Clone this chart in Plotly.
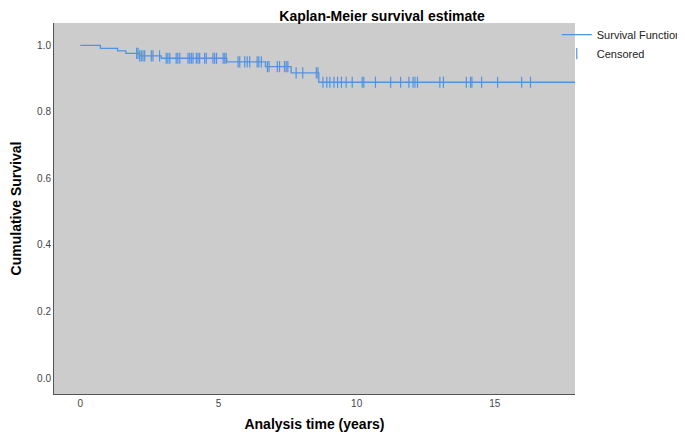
import numpy as np
import plotly.graph_objects as go

# Kaplan-Meier step function (time in years, cumulative survival)
step_times = [0.0, 0.73, 1.35, 1.65, 2.15, 2.93, 5.30, 6.70, 7.63, 8.63, 17.9]
step_surv = [1.0, 0.991, 0.983, 0.976, 0.968, 0.961, 0.950, 0.936, 0.917, 0.889, 0.889]

# Censored observation times
censor_times = [
    2.04, 2.09, 2.15, 2.21, 2.27, 2.33, 2.57, 2.63, 2.87, 3.11, 3.17, 3.24,
    3.47, 3.53, 3.60, 3.90, 3.96, 4.02, 4.08, 4.20, 4.26, 4.32, 4.50, 4.56,
    4.80, 4.86, 4.93, 5.17, 5.23, 5.28, 5.71, 5.77, 5.95, 6.04, 6.13, 6.40,
    6.46, 6.55, 6.77, 6.83, 7.13, 7.21, 7.39, 7.45, 7.51, 7.81, 8.05, 8.54,
    8.60, 8.78, 8.92, 9.03, 9.18, 9.31, 9.45, 9.62, 9.84, 10.20, 10.26, 10.68,
    11.23, 11.59, 11.89, 12.04, 12.11, 12.20, 13.01, 13.14, 13.97, 14.12,
    14.17, 14.52, 15.10, 15.97, 16.29,
]

x_ticks = [0, 5, 10, 15]
y_ticks = [0.0, 0.2, 0.4, 0.6, 0.8, 1.0]

# survival level at each censored time (from the step function)
st = np.array(step_times)
ss = np.array(step_surv)
idx = np.searchsorted(st, np.array(censor_times), side="right") - 1
censor_surv = ss[idx]

BLUE = "rgb(84,146,223)"
FONT = "Liberation Sans, Arial, Helvetica, sans-serif"

fig = go.Figure()
fig.add_trace(go.Scatter(
    x=step_times, y=step_surv, mode="lines", line=dict(shape="hv", color=BLUE, width=1.3),
    name="Survival Function", hoverinfo="skip",
))
fig.add_trace(go.Scatter(
    x=censor_times, y=censor_surv, mode="markers", name="Censored",
    marker=dict(symbol="line-ns", size=8, color=BLUE, line=dict(color=BLUE, width=1.2)),
    hoverinfo="skip",
))

fig.update_layout(
    width=685, height=434,
    margin=dict(l=46, r=118, t=15, b=48, autoexpand=False),
    paper_bgcolor="white",
    plot_bgcolor="#cccccc",
    font=dict(family=FONT, color="#222"),
    title=dict(
        text="<b>Kaplan-Meier survival estimate</b>",
        font=dict(size=14, color="black", family=FONT),
        x=374 / 685, xanchor="center", xref="container",
        y=1 - 8.5 / 434, yanchor="middle", yref="container",
    ),
    legend=dict(
        x=0.965, xanchor="left", y=1.008, yanchor="top",
        bgcolor="rgba(0,0,0,0)", font=dict(size=11, color="#222", family=FONT),
        itemwidth=30,
    ),
    showlegend=True,
)

fig.update_xaxes(
    range=[-0.95, 17.9], tickvals=x_ticks, ticktext=[str(v) for v in x_ticks],
    showgrid=False, zeroline=False, showline=True, linecolor="#555", linewidth=1,
    ticks="", tickfont=dict(size=10, color="#444"), automargin=False,
    title=dict(text="<b>Analysis time (years)</b>", font=dict(size=14, color="black"), standoff=11),
    mirror=False,
)
fig.update_yaxes(
    range=[-0.048, 1.067], tickvals=y_ticks, ticktext=[f"{v:.1f}" for v in y_ticks],
    showgrid=False, zeroline=False, showline=True, linecolor="#555", linewidth=1,
    ticks="", tickfont=dict(size=10, color="#444"), automargin=False,
    title=dict(text="<b>Cumulative Survival</b>", font=dict(size=14, color="black"), standoff=18),
    mirror=False,
)

fig.write_html("out.html")
